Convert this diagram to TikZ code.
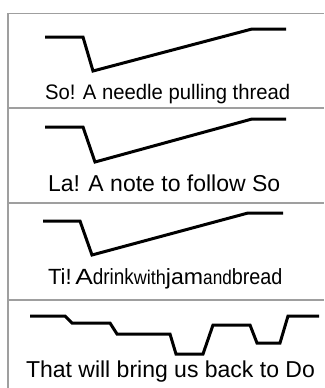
\documentclass[tikz,border=0pt]{standalone}
\usepackage{fontspec}
\setmainfont{Liberation Sans}
\usepackage{graphicx}
\tikzset{
    contour/.style={black, line width=3pt},
    rule/.style={gray!75, line width=1.2pt},
    lyric/.style={anchor=base west, inner sep=0pt, outer sep=0pt},
    word/.style={lyric, font=\fontsize{22}{22}\selectfont}
}
\begin{document}
\begin{tikzpicture}[x=1pt, y=-1pt]
    \useasboundingbox (0,0) rectangle (324,388);

    % Frame and separators
    \draw[rule] (8,388) -- (8,13.5) -- (324,13.5);
    \foreach \y in {108,203,300} {
        \draw[rule] (8,\y) -- (324,\y);
    }

    % So
    \draw[contour] (45,37) -- (83,37) -- (93,71) -- (252,29) -- (286,29);
    \node[lyric, font=\fontsize{21}{21}\selectfont] (so) at (45,99) {\scalebox{0.965}[1]{So! A needle pulling thread}};

    % La
    \draw[contour] (45,127) -- (83,127) -- (95,162) -- (252,119) -- (286,119);
    \node[lyric, font=\fontsize{23}{23}\selectfont] (la) at (48,191) {La! A note to follow So};

    % Ti (words of mixed sizes)
    \draw[contour] (43,221) -- (80,221) -- (92,255) -- (248,213) -- (283,213);
    \node[word] (ti) at (48,284) {Ti!\,\scalebox{1.2}[1]{A}};
    \node[word, at=(ti.base east)] (drink) {\scalebox{0.86}[1]{drink}};
    \node[word, at=(drink.base east)] (with) {\scalebox{0.82}[0.9]{with}};
    \node[word, at=(with.base east)] (jam) {\scalebox{1.05}[1]{jam}};
    \node[word, at=(jam.base east)] (and) {\scalebox{0.78}[0.9]{and}};
    \node[word, at=(and.base east)] (bread) {\scalebox{0.9}[1]{bread}};

    % Do
    \draw[contour] (30,316) -- (65,316) -- (72,323) -- (110,323) -- (117,334)
        -- (170,334) -- (176,354) -- (203,354) -- (213,325) -- (250,325)
        -- (257,343) -- (280,343) -- (288,316) -- (319,316);
    \node[lyric, font=\fontsize{23}{23}\selectfont] (do) at (26,377) {That will bring us back to Do};
\end{tikzpicture}
\end{document}
